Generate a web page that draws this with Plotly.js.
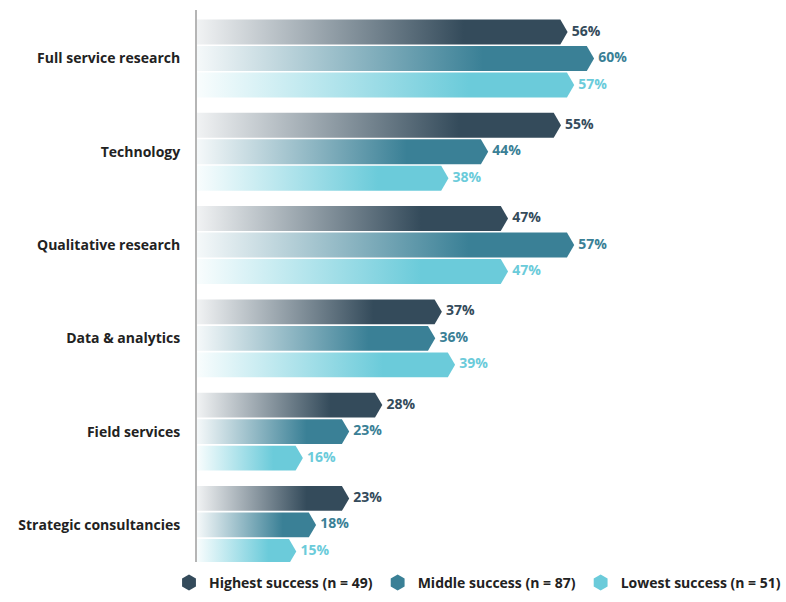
<!DOCTYPE html>
<html>
<head>
<meta charset="utf-8">
<script src="https://cdn.plot.ly/plotly-3.0.1.min.js"></script>
<style>
  body { margin: 0; background: #fff; }
  #chart { width: 786px; height: 602px; }
</style>
</head>
<body>
<div id="chart"></div>
<script>
// categories, top to bottom
const categories = ["Full service research", "Technology", "Qualitative research",
  "Data & analytics", "Field services", "Strategic consultancies"];

const seriesNames = ["Highest success (n = 49)", "Middle success (n = 87)", "Lowest success (n = 51)"];
const highest = [56, 55, 47, 37, 28, 23];
const middle  = [60, 44, 57, 36, 23, 18];
const lowest  = [57, 38, 47, 39, 16, 15];
const seriesColors = ["#344b5b", "#3a8096", "#6bcbda"];
const fadeColors = ["rgba(52,75,91,0.07)", "rgba(58,128,150,0.05)", "rgba(107,203,218,0.04)"];

const seriesValues = [highest, middle, lowest];

// layout constants
const groupPitch = 3.52;  // distance between category centres (in bar pitches)
const barHeight = 0.94;
const tipLen = 1.1;       // arrow point length, in percent units
const FONT = "'Open Sans', sans-serif";

let traces = [];

// one filled polygon per bar so every bar gets its own gradient
seriesValues.forEach((vals, j) => {
  vals.forEach((v, i) => {
    let yc = i * groupPitch + (j - 1);
    let top = yc - barHeight / 2, bot = yc + barHeight / 2;
    traces.push({
      type: "scatter",
      mode: "lines",
      x: [0, v - tipLen, v, v - tipLen, 0, 0],
      y: [top, top, yc, bot, bot, top],
      fill: "toself",
      fillgradient: {
        type: "horizontal",
        colorscale: [[0, fadeColors[j]], [0.72, seriesColors[j]], [1, seriesColors[j]]]
      },
      line: { width: 0, color: seriesColors[j] },
      showlegend: false,
      hoverinfo: "skip"
    });
  });
});

// value labels (invisible marker gives the small gap after the tip)
seriesValues.forEach((vals, j) => {
  traces.push({
    type: "scatter",
    mode: "markers+text",
    x: vals,
    y: vals.map((v, i) => i * groupPitch + (j - 1)),
    text: vals.map(v => v + "%"),
    textposition: "middle right",
    marker: { size: 5, opacity: 0 },
    textfont: { family: FONT, size: 14, color: seriesColors[j], weight: "bold" },
    showlegend: false,
    hoverinfo: "skip"
  });
});

// legend entries
seriesNames.forEach((name, j) => {
  traces.push({
    type: "scatter",
    mode: "markers",
    x: [null],
    y: [null],
    name: name,
    marker: { symbol: "hexagon", size: 16, color: seriesColors[j] },
    hoverinfo: "skip"
  });
});

let layout = {
  width: 786,
  height: 602,
  margin: { l: 197, r: 0, t: 10, b: 40 },
  paper_bgcolor: "#fff",
  plot_bgcolor: "#fff",
  showlegend: true,
  hovermode: false,
  font: { family: FONT, color: "#222" },
  xaxis: {
    range: [0, 89],
    showgrid: false,
    zeroline: false,
    showticklabels: false,
    showline: false,
    fixedrange: true
  },
  yaxis: {
    range: [19.0, -1.83],
    tickvals: categories.map((c, i) => i * groupPitch),
    ticktext: categories,
    ticks: "",
    ticklabelstandoff: 12,
    tickfont: { family: FONT, size: 14, color: "#222", weight: "bold" },
    showgrid: false,
    zeroline: false,
    showline: true,
    linecolor: "#b5b5b5",
    linewidth: 2,
    fixedrange: true
  },
  legend: {
    orientation: "h",
    x: -0.02,
    xanchor: "left",
    y: -0.009,
    yanchor: "top",
    font: { family: FONT, size: 14, color: "#222", weight: "bold" },
    itemclick: false,
    itemdoubleclick: false
  }
};

Plotly.newPlot("chart", traces, layout, { displayModeBar: false, staticPlot: true });
</script>
</body>
</html>
